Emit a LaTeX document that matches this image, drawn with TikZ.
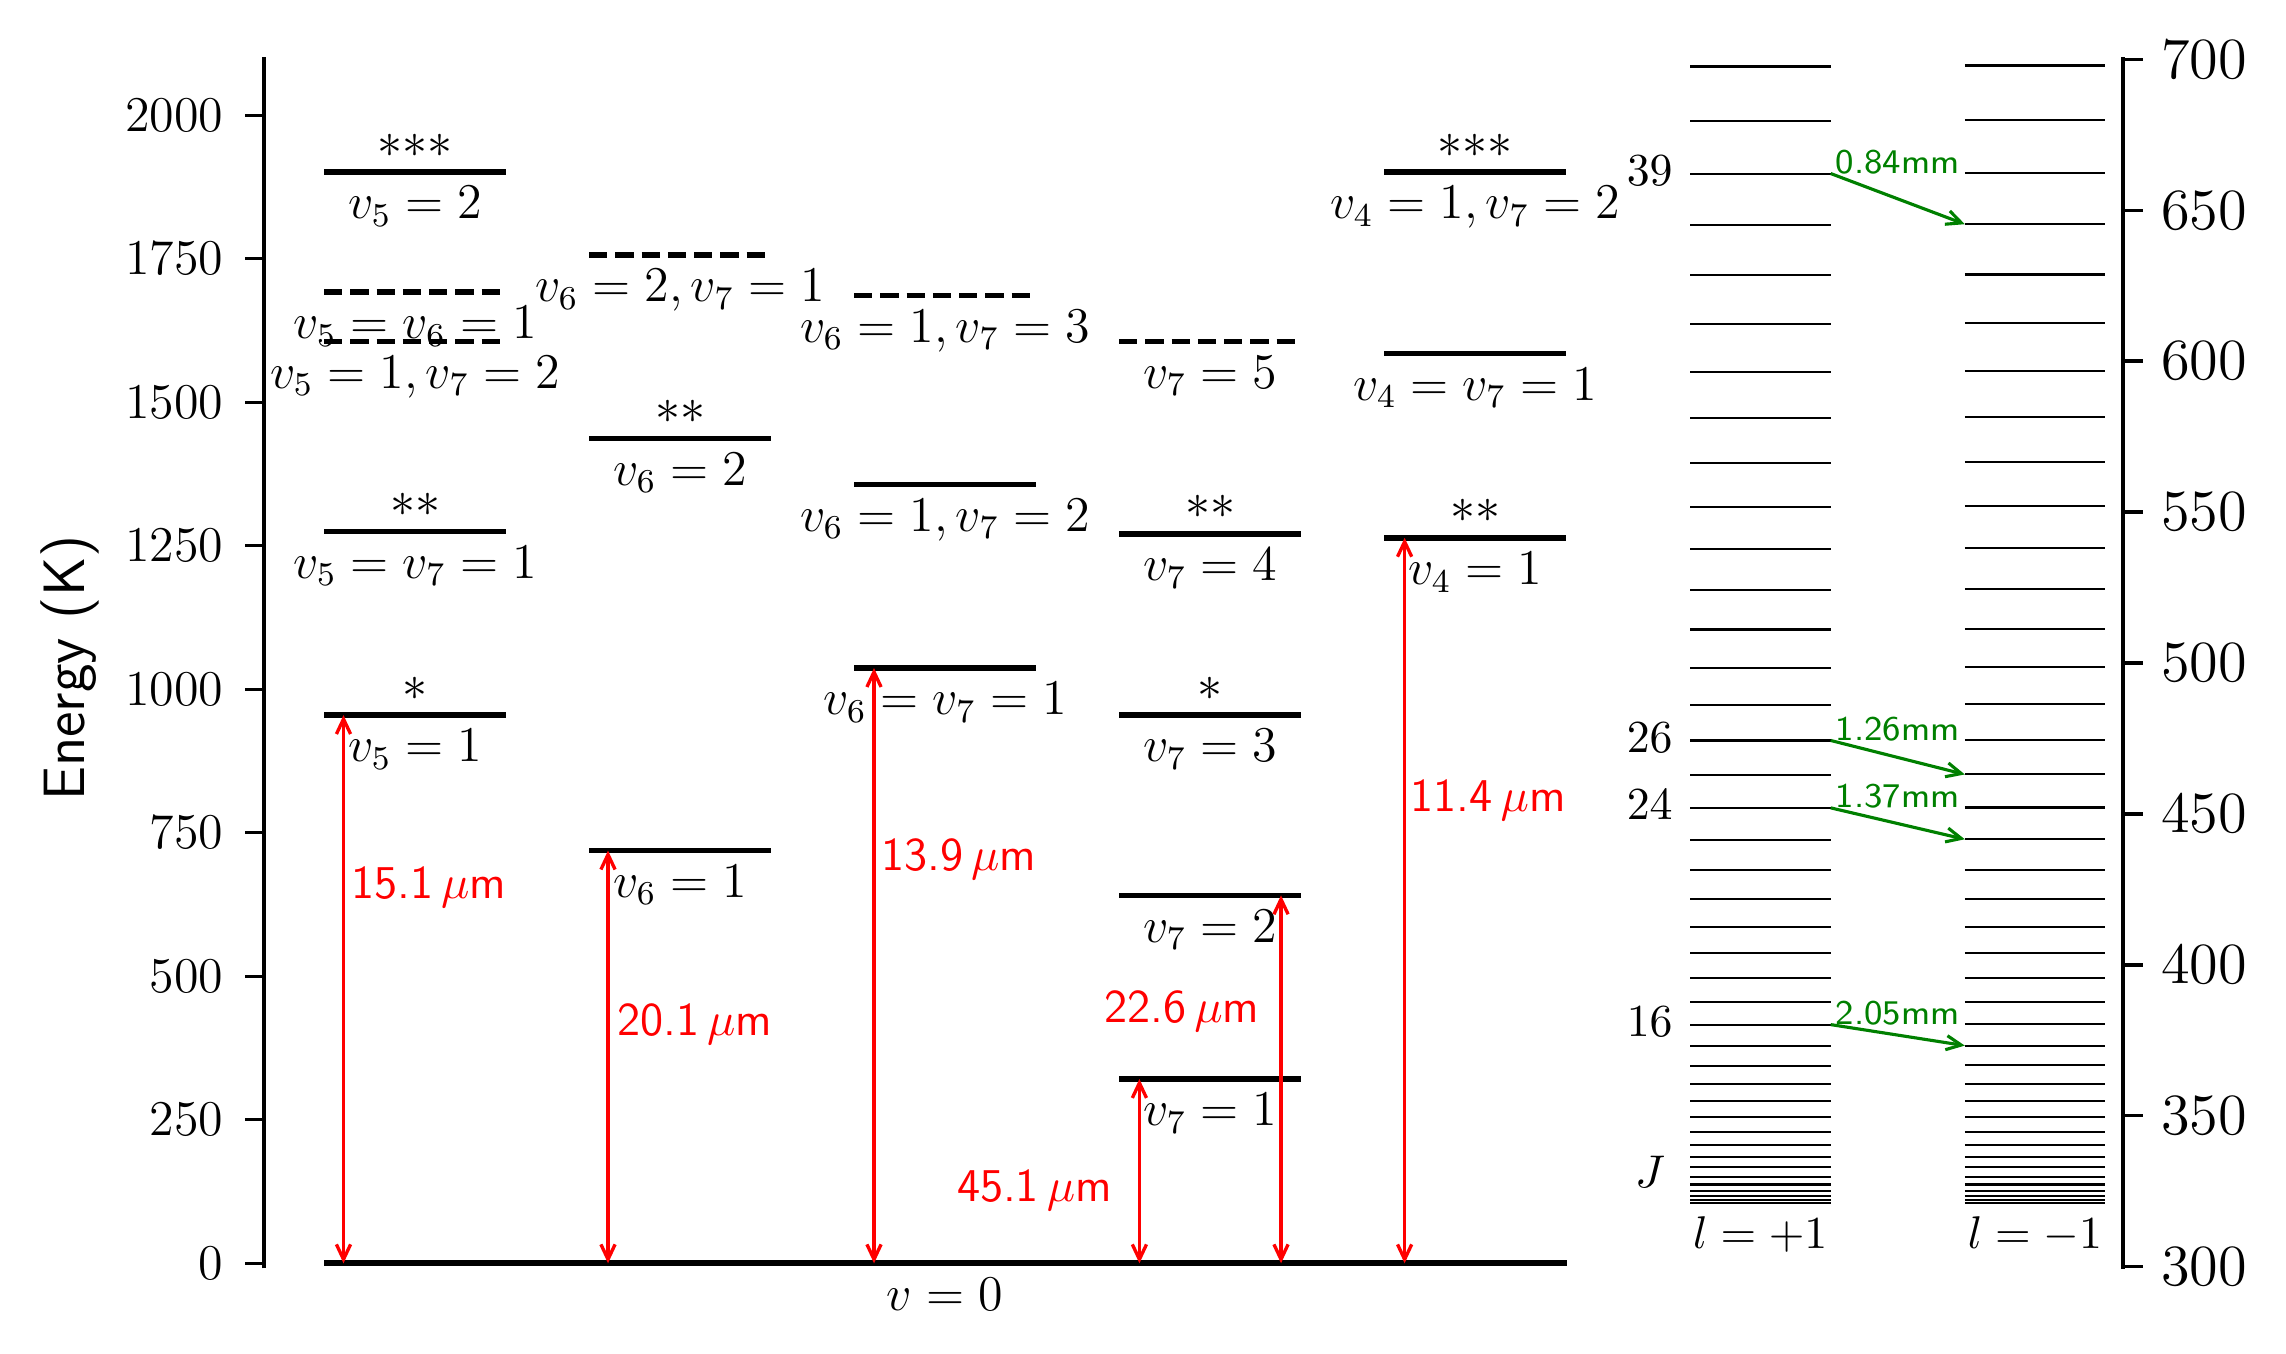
\RequirePackage{fix-cm}
\documentclass[tikz,border=0pt]{standalone}
\usetikzlibrary{arrows.meta}
\newcommand{\fsz}[1]{\fontsize{#1}{#1}\selectfont}
\tikzset{
  spine/.style={line width=1pt},
  tick/.style={line width=0.8pt},
  level/.style={line width=1.35pt},
  dlevel/.style={level, dash pattern=on 4.4pt off 1.9pt},
  lab/.style={anchor=north, inner sep=0pt, yshift=-3.3pt, font=\fsz{12}},
  stars/.style={anchor=base, inner sep=0pt, yshift=3.6pt, font=\fsz{12}},
  trans/.style={red, line width=0.8pt, {Straight Barb[length=3.6pt,width=3.4pt]}-{Straight Barb[length=3.6pt,width=3.4pt]}},
  wl/.style={red, inner sep=0pt, font=\sffamily\fsz{11.3}},
  rung/.style={line width=0.5pt},
  hop/.style={green!50!black, line width=0.75pt, -{Straight Barb[length=3.6pt,width=3.4pt]}},
  mm/.style={anchor=base, inner sep=0pt, text=green!50!black, font=\sffamily\fsz{8.3}},
}
\begin{document}
\begin{tikzpicture}[x=0.24pt, y=0.24pt, line cap=butt]
  \useasboundingbox (0,0) rectangle (2286,1354);
  % vibrational levels, left axis in K
  \begin{scope}[yshift=21.768pt, y=0.13776pt]
    \draw[spine] (263.8,-8.7) -- (263.8,2101);
    \foreach \e in {0,250,...,2000} {
      \draw[tick] (245,\e) -- (263.8,\e);
      \node[anchor=east, inner sep=0pt, font=\fsz{12}] (t\e) at (224,\e) {$\e$};
    }
    \node[rotate=90, anchor=base, font=\sffamily\fsz{14}] (ylab) at (85,1037) {Energy (K)};
    % ground state
    \draw[level] (324,0) -- (1566.5,0);
    \node[lab] (gs) at (944.7,0) {$v=0$};
    % solid levels
    \foreach \x/\e/\t in {324/955/{v_5=1}, 324/1275/{v_5=v_7=1}, 324/1901/{v_5=2},
        589/719/{v_6=1}, 589/1437/{v_6=2}, 854/1037/{v_6=v_7=1}, 854/1357/{v_6=1,v_7=2},
        1119/321/{v_7=1}, 1119/641/{v_7=2}, 1119/955/{v_7=3}, 1119/1271/{v_7=4},
        1384/1264/{v_4=1}, 1384/1585/{v_4=v_7=1}, 1384/1901/{v_4=1,v_7=2}} {
      \draw[level] (\x,\e) -- ++(182,0);
      \node[lab] (n\x\e) at (\x+91,\e) {$\t$};
    }
    % dashed levels
    \foreach \x/\e/\t in {324/1606/{v_5=1,v_7=2}, 324/1692/{v_5=v_6=1}, 589/1757/{v_6=2,v_7=1},
        854/1686/{v_6=1,v_7=3}, 1119/1606/{v_7=5}} {
      \draw[dlevel] (\x,\e) -- ++(182,0);
      \node[lab] (d\x\e) at (\x+91,\e) {$\t$};
    }
    \foreach \x/\e/\s in {324/955/{*}, 324/1275/{**}, 324/1901/{{*}{*}{*}}, 589/1437/{**},
        1119/955/{*}, 1119/1271/{**}, 1384/1264/{**}, 1384/1901/{{*}{*}{*}}} {
      \node[stars] (s\x\e) at (\x+91,\e) {$\s$};
    }
    % infrared transitions
    \foreach \x/\e/\n in {343.5/955/a, 608/719/b, 874/1037/c, 1139.4/321/d, 1281/641/e, 1404.6/1264/f} {
      \coordinate (lo\n) at (\x,0);
      \coordinate (hi\n) at (\x,\e);
      \draw[trans] (lo\n) -- (hi\n);
    }
    \node[wl, anchor=base west] (wa) at (350.5,636) {15.1\,$\mu$m};
    \node[wl, anchor=base west] (wb) at (616.5,396) {20.1\,$\mu$m};
    \node[wl, anchor=base west] (wc) at (880.5,685) {13.9\,$\mu$m};
    \node[wl, anchor=base east] (wd) at (1112.5,107) {45.1\,$\mu$m};
    \node[wl, anchor=base east] (we) at (1260,419) {22.6\,$\mu$m};
    \node[wl, anchor=base west] (wf) at (1410,787) {11.4\,$\mu$m};
  \end{scope}
  % rotational ladder of v7=1, right axis in K
  \begin{scope}[yshift=-196.38pt, y=0.72444pt]
    \draw[spine, line cap=rect] (2123.2,300) -- (2123.2,700);
    \foreach \e in {300,350,...,700} {
      \draw[tick] (2123.2,\e) -- (2142.7,\e);
      \node[anchor=west, inner sep=0pt, font=\fsz{14}] (r\e) at (2160.5,\e) {$\e$};
    }
    \foreach \J in {1,...,41} {
      \pgfmathsetmacro{\Ep}{320.66+0.2189*\J*(\J+1)}
      \pgfmathsetmacro{\Em}{320.66+0.2191*\J*(\J+1)}
      \coordinate (p\J) at (1830.7,\Ep);
      \coordinate (m\J) at (1964.8,\Em);
      \draw[rung] (1690,\Ep) -- (p\J);
      \draw[rung] (m\J) -- (2105.3,\Em);
    }
    \foreach \J in {16,24,26,39} {
      \path (p\J) ++(-157.3,0) node[anchor=east, inner sep=0pt, yshift=0.7pt, font=\fsz{11}] (j\J) {$\J$};
    }
    \node[inner sep=0pt, font=\fsz{11}] (jlab) at (1650,331.4) {$J$};
    \node[anchor=base, inner sep=0pt, font=\fsz{11}] (lp) at (1760.3,306.1) {$l=+1$};
    \node[anchor=base, inner sep=0pt, font=\fsz{11}] (lm) at (2035,306.1) {$l=-1$};
    \foreach \J/\w in {39/0.84, 26/1.26, 24/1.37, 16/2.05} {
      \pgfmathtruncatemacro{\K}{\J-1}
      \draw[hop] (p\J) -- (m\K);
      \path (p\J) ++(67,0) node[mm] (w\J) {\w mm};
    }
  \end{scope}
\end{tikzpicture}
\end{document}
